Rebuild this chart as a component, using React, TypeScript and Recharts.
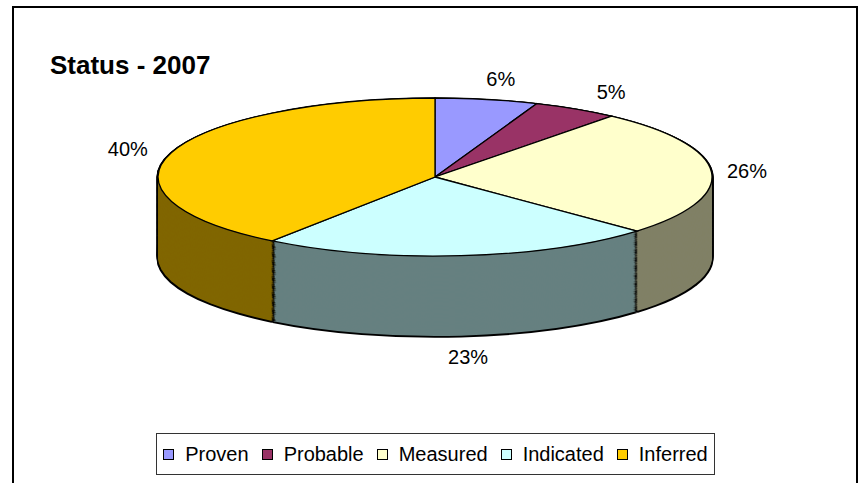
import { PieChart, Pie, Cell } from 'recharts';

// reading of the 2007 status split (percent of total)
const categories = ['Proven', 'Probable', 'Measured', 'Indicated', 'Inferred'];
const shares = [6, 5, 26, 23, 40];
const topColors = ['#9999FF', '#993366', '#FFFFCC', '#CCFFFF', '#FFCC00'];
const sideColors = ['#4D4D80', '#4D1A33', '#808066', '#668080', '#806600'];

const SQUASH = 0.2852;            // ellipse ry / rx
const CX = 435;
const CY = 177 / SQUASH;          // top face centre, unsquashed space
const R = 277;
const DEPTH = 80 / SQUASH;        // wall height, unsquashed space
const STEP = 4;
const EDGE = 0.16;                // thin dark seam between wall pieces (percent)

const pieData = categories.map((name, i) => ({ name, value: shares[i] }));

// wall: each slice followed by a hairline seam so the vertical joints show
const wallData = categories.flatMap((name, i) => [
  { name, value: shares[i] - EDGE, fill: sideColors[i] },
  { name: name + '-edge', value: EDGE, fill: '#000' },
]);

const levels: number[] = [];
for (let d = DEPTH; d > 0; d -= STEP) levels.push(d);
const outline = [DEPTH + 5, ...levels, 0];

const RAD = Math.PI / 180;
const NO_MARGIN = { top: 0, right: 0, bottom: 0, left: 0 };

const renderLabel = (p: any) => {
  const ux = Math.cos(p.midAngle * RAD);
  const uy = -Math.sin(p.midAngle * RAD);
  const rr = R + 33 + 42 * Math.abs(uy);
  const x = p.cx + rr * ux;
  let y = (p.cy + rr * uy) * SQUASH;
  if (uy > 0) y += DEPTH * SQUASH;
  return (
    <text
      key={'lbl' + p.index}
      x={x}
      y={y}
      textAnchor="middle"
      dominantBaseline="central"
      fontSize={20}
      fill="#000"
      fontFamily="'Liberation Sans', Arial, sans-serif"
    >
      {shares[p.index]}%
    </text>
  );
};

export default function App() {
  return (
    <div
      className="pie3d"
      style={{
        position: 'absolute', left: 0, top: 0, width: 859, height: 483,
        overflow: 'hidden', background: '#fff',
        fontFamily: "'Liberation Sans', Arial, sans-serif",
      }}
    >
      <style>{`
        .pie3d .recharts-pie-sector { transform: scaleY(${SQUASH}); }
        .pie3d .recharts-pie-sector path { vector-effect: non-scaling-stroke; }
      `}</style>

      <div
        style={{
          position: 'absolute', left: 12, top: 6, width: 846, height: 540,
          border: '2px solid #000', boxSizing: 'border-box',
        }}
      />

      <div
        style={{
          position: 'absolute', left: 50, top: 52, fontSize: 26,
          fontWeight: 'bold', lineHeight: 1, color: '#000',
        }}
      >
        Status - 2007
      </div>

      <div style={{ position: 'absolute', left: 0, top: 0 }}>
        <PieChart width={859} height={483} margin={NO_MARGIN}>
          {outline.map((d) => (
            <Pie
              key={'o' + d}
              data={pieData}
              dataKey="value"
              cx={CX}
              cy={CY + d}
              outerRadius={R + 1.5}
              startAngle={90}
              endAngle={-270}
              fill="#000"
              stroke="none"
              isAnimationActive={false}
            />
          ))}
          {levels.map((d) => (
            <Pie
              key={'w' + d}
              data={wallData}
              dataKey="value"
              cx={CX}
              cy={CY + d}
              outerRadius={R}
              startAngle={90 - (EDGE * 3.6) / 2}
              endAngle={-270 - (EDGE * 3.6) / 2}
              stroke="none"
              isAnimationActive={false}
            >
              {wallData.map((e, i) => (
                <Cell key={i} fill={e.fill} />
              ))}
            </Pie>
          ))}
          <Pie
            data={pieData}
            dataKey="value"
            cx={CX}
            cy={CY}
            outerRadius={R}
            startAngle={90}
            endAngle={-270}
            stroke="#000"
            strokeWidth={1.3}
            label={renderLabel}
            labelLine={false}
            isAnimationActive={false}
          >
            {pieData.map((e, i) => (
              <Cell key={e.name} fill={topColors[i]} />
            ))}
          </Pie>
        </PieChart>
      </div>

      <div
        style={{
          position: 'absolute', left: 156, top: 433, width: 559, height: 42,
          border: '1px solid #333', boxSizing: 'border-box', background: '#fff',
          display: 'flex', alignItems: 'center', justifyContent: 'center',
          fontSize: 20, color: '#000',
        }}
      >
        {categories.map((c, i) => (
          <div key={c} style={{ display: 'flex', alignItems: 'center', marginRight: i < 4 ? 13 : 0 }}>
            <span
              style={{
                display: 'inline-block', width: 11, height: 11, background: topColors[i],
                border: '1px solid #000', boxSizing: 'border-box', marginRight: 11,
              }}
            />
            <span>{c}</span>
          </div>
        ))}
      </div>
    </div>
  );
}
